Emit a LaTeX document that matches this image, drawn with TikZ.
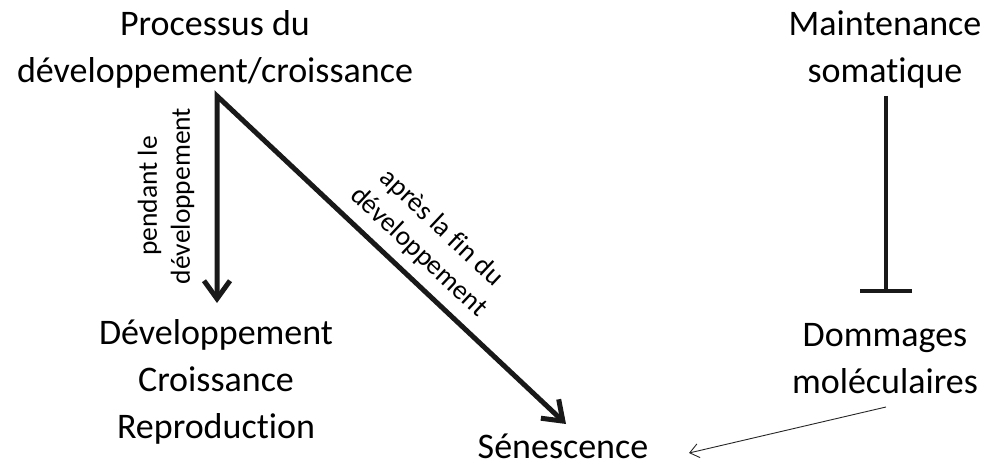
\documentclass[tikz,border=0pt]{standalone}
\usepackage{fontspec}
\setmainfont{Carlito}[RawFeature={-liga;-clig;-dlig;-calt}]
\usetikzlibrary{arrows.meta}
\tikzset{
  bigtext/.style={font=\fontsize{36}{47}\selectfont, align=center, inner sep=0pt},
  smalltext/.style={font=\fontsize{27.5}{33}\selectfont, align=center, inner sep=0pt},
  bigarrow/.style={line width=5pt, line join=miter, color=black!90,
    {Straight Barb[length=18pt,width=26pt,line width=5pt]}-{Straight Barb[length=18pt,width=26pt,line width=5pt]}},
  inhib/.style={line width=4pt, color=black!90, -{Bar[width=52pt,line width=4pt]}},
  thinarrow/.style={line width=0.9pt, color=black!85, -{Straight Barb[length=9pt,width=14pt,line width=0.9pt]}}
}
\begin{document}
\begin{tikzpicture}[x=1pt,y=-1pt]
\useasboundingbox (0,0) rectangle (987,473);
\node[bigtext, anchor=base] (proc) at (215,83) {Processus du\\développement/croissance};
\node[bigtext, anchor=base] (dev) at (216,438) {Développement\\Croissance\\Reproduction};
\node[bigtext, anchor=base] (sen) at (563,458) {Sénescence};
\node[bigtext, anchor=base] (main) at (885,83) {Maintenance\\somatique};
\node[bigtext, anchor=base] (dom) at (885,393) {Dommages\\moléculaires};
\node[smalltext, rotate=90] (lab1) at (166,196) {pendant le\\développement};
\node[smalltext, rotate=-43.2] (lab2) at (430,240) {après la fin du\\développement};
\coordinate (corner) at (217,96);
\coordinate (dtip) at (217,303);
\coordinate (stip) at (566,424);
\coordinate (mtop) at (886,96);
\coordinate (mbar) at (886,293);
\coordinate (dstart) at (886,407);
\coordinate (send) at (689,453);
\draw[bigarrow] (dtip) -- (corner) -- (stip);
\draw[inhib] (mtop) -- (mbar);
\draw[thinarrow] (dstart) -- (send);
\end{tikzpicture}
\end{document}
